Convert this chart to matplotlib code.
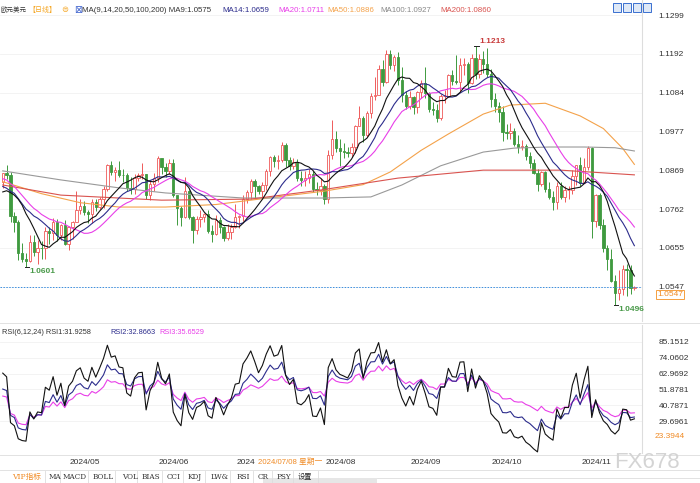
import numpy as np
import matplotlib.pyplot as plt
from matplotlib.patches import Rectangle

plt.rcParams['font.family'] = ['Liberation Sans', 'Noto Sans CJK SC', 'DejaVu Sans']

# closes before the first visible candle (for MA / RSI warm-up)
pre_close = [1.0938, 1.0926, 1.0927, 1.0948, 1.0882, 1.0890, 1.0868, 1.0865, 1.0922, 1.0859, 1.0808,
             1.0839, 1.0830, 1.0826, 1.0790, 1.0790, 1.0741, 1.0771, 1.0836, 1.0836, 1.0837]

# daily EUR/USD, 2024-04-08 .. 2024-11-21
closes = [
    # Apr
    1.0861, 1.0856, 1.0742, 1.0727, 1.0641, 1.0625, 1.0620, 1.0671, 1.0643, 1.0656, 1.0654, 1.0703, 1.0697, 1.0728, 1.0692, 1.0719, 1.0665,
    # May
    1.0713, 1.0727, 1.0760, 1.0770, 1.0753, 1.0748, 1.0782, 1.0768, 1.0790, 1.0819, 1.0883, 1.0866, 1.0871, 1.0857, 1.0856, 1.0822, 1.0817, 1.0847, 1.0857, 1.0858, 1.0802, 1.0833, 1.0848,
    # Jun
    1.0904, 1.0878, 1.0868, 1.0891, 1.0800, 1.0765, 1.0740, 1.0812, 1.0740, 1.0705, 1.0735, 1.0740, 1.0749, 1.0702, 1.0693, 1.0733, 1.0714, 1.0683, 1.0700, 1.0713,
    # Jul
    1.0740, 1.0742, 1.0790, 1.0810, 1.0840, 1.0827, 1.0812, 1.0830, 1.0867, 1.0907, 1.0894, 1.0899, 1.0939, 1.0898, 1.0882, 1.0893, 1.0848, 1.0844, 1.0849, 1.0858, 1.0817, 1.0816, 1.0825,
    # Aug
    1.0789, 1.0911, 1.0955, 1.0932, 1.0923, 1.0920, 1.0917, 1.0933, 1.0993, 1.1013, 1.0967, 1.1029, 1.1076, 1.1078, 1.1150, 1.1114, 1.1192, 1.1161, 1.1183, 1.1118, 1.1077, 1.1047,
    # Sep
    1.1073, 1.1045, 1.1087, 1.1112, 1.1082, 1.1040, 1.1035, 1.1013, 1.1075, 1.1075, 1.1132, 1.1116, 1.1115, 1.1162, 1.1163, 1.1112, 1.1180, 1.1135, 1.1177, 1.1164, 1.1135,
    # Oct
    1.1068, 1.1048, 1.1032, 1.0975, 1.0973, 1.0978, 1.0942, 1.0935, 1.0937, 1.0908, 1.0891, 1.0862, 1.0832, 1.0866, 1.0817, 1.0797, 1.0781, 1.0827, 1.0797, 1.0815, 1.0815, 1.0855, 1.0884,
    # Nov
    1.0834, 1.0880, 1.0930, 1.0730, 1.0801, 1.0719, 1.0654, 1.0623, 1.0564, 1.0530, 1.0541, 1.0598, 1.0595, 1.0544, 1.0547]

highs = [
    1.0863, 1.0885, 1.0866, 1.0755, 1.0732, 1.0668, 1.0640, 1.0691, 1.0691, 1.0678, 1.0675, 1.0712, 1.0714, 1.0737, 1.0734, 1.0722, 1.0731,
    1.0716, 1.0730, 1.0812, 1.0790, 1.0786, 1.0760, 1.0791, 1.0790, 1.0796, 1.0825, 1.0888, 1.0895, 1.0878, 1.0894, 1.0873, 1.0861, 1.0852, 1.0858, 1.0863, 1.0889, 1.0860, 1.0841, 1.0862,
    1.0909, 1.0900, 1.0889, 1.0902, 1.0901, 1.0792, 1.0770, 1.0852, 1.0815, 1.0744, 1.0742, 1.0761, 1.0752, 1.0761, 1.0718, 1.0746, 1.0741, 1.0716, 1.0721, 1.0720,
    1.0776, 1.0746, 1.0800, 1.0816, 1.0845, 1.0845, 1.0830, 1.0836, 1.0872, 1.0910, 1.0912, 1.0911, 1.0948, 1.0944, 1.0905, 1.0904, 1.0900, 1.0869, 1.0868, 1.0872, 1.0867, 1.0837, 1.0847,
    1.0833, 1.0927, 1.1008, 1.0978, 1.0955, 1.0944, 1.0935, 1.0944, 1.0996, 1.1047, 1.1020, 1.1033, 1.1084, 1.1128, 1.1160, 1.1174, 1.1202, 1.1202, 1.1189, 1.1196, 1.1155, 1.1090,
    1.1088, 1.1074, 1.1090, 1.1120, 1.1155, 1.1086, 1.1058, 1.1053, 1.1080, 1.1093, 1.1136, 1.1146, 1.1189, 1.1180, 1.1180, 1.1168, 1.1190, 1.1213, 1.1190, 1.1200, 1.1209,
    1.1151, 1.1083, 1.1059, 1.1047, 1.0998, 1.0999, 1.0987, 1.0966, 1.0953, 1.0942, 1.0920, 1.0900, 1.0872, 1.0869, 1.0867, 1.0836, 1.0813, 1.0836, 1.0838, 1.0827, 1.0825, 1.0870, 1.0885,
    1.0905, 1.0904, 1.0937, 1.0934, 1.0805, 1.0808, 1.0735, 1.0664, 1.0653, 1.0581, 1.0595, 1.0609, 1.0610, 1.0609, 1.0551]

lows = [
    1.0822, 1.0845, 1.0728, 1.0698, 1.0622, 1.0617, 1.0601, 1.0617, 1.0632, 1.0611, 1.0624, 1.0623, 1.0665, 1.0678, 1.0675, 1.0676, 1.0663,
    1.0650, 1.0680, 1.0726, 1.0750, 1.0745, 1.0724, 1.0723, 1.0758, 1.0763, 1.0766, 1.0812, 1.0856, 1.0839, 1.0851, 1.0838, 1.0812, 1.0805, 1.0805, 1.0840, 1.0845, 1.0790, 1.0788, 1.0812,
    1.0838, 1.0858, 1.0850, 1.0860, 1.0795, 1.0719, 1.0715, 1.0739, 1.0734, 1.0668, 1.0693, 1.0714, 1.0726, 1.0695, 1.0671, 1.0692, 1.0697, 1.0673, 1.0676, 1.0681,
    1.0710, 1.0710, 1.0730, 1.0780, 1.0790, 1.0792, 1.0804, 1.0796, 1.0815, 1.0855, 1.0880, 1.0874, 1.0892, 1.0880, 1.0870, 1.0872, 1.0840, 1.0825, 1.0825, 1.0835, 1.0810, 1.0802, 1.0800,
    1.0777, 1.0780, 1.0900, 1.0920, 1.0881, 1.0904, 1.0905, 1.0906, 1.0918, 1.0993, 1.0949, 1.0961, 1.1015, 1.1064, 1.1084, 1.1103, 1.1112, 1.1150, 1.1143, 1.1106, 1.1059, 1.1038,
    1.1040, 1.1026, 1.1027, 1.1070, 1.1069, 1.1030, 1.1022, 1.1002, 1.1008, 1.1056, 1.1073, 1.1105, 1.1107, 1.1085, 1.1133, 1.1083, 1.1108, 1.1123, 1.1124, 1.1138, 1.1127,
    1.1045, 1.1032, 1.1004, 1.0951, 1.0955, 1.0955, 1.0937, 1.0918, 1.0926, 1.0898, 1.0876, 1.0860, 1.0811, 1.0825, 1.0809, 1.0791, 1.0761, 1.0763, 1.0790, 1.0781, 1.0790, 1.0804, 1.0830,
    1.0825, 1.0834, 1.0871, 1.0682, 1.0712, 1.0708, 1.0645, 1.0595, 1.0560, 1.0496, 1.0512, 1.0525, 1.0522, 1.0527, 1.0540]

# long moving averages (candle index, value)
ma50_idx = [0, 10, 20, 30, 42, 55, 70, 83, 93, 100, 108, 115, 124, 131, 140, 149, 155, 160, 163]
ma50_val = [1.0838, 1.0805, 1.0780, 1.0768, 1.0768, 1.0775, 1.0795, 1.0812, 1.0830, 1.0865, 1.0925, 1.0970, 1.1025, 1.1050, 1.1055, 1.1020, 1.0985, 1.0930, 1.0886]
ma100_idx = [0, 15, 30, 42, 62, 83, 95, 103, 113, 124, 132, 141, 150, 158, 163]
ma100_val = [1.0868, 1.0843, 1.0821, 1.0807, 1.0793, 1.0793, 1.0796, 1.0829, 1.0882, 1.0920, 1.0931, 1.0934, 1.0934, 1.0932, 1.0923]
ma200_idx = [0, 15, 41, 64, 82, 102, 124, 144, 163]
ma200_val = [1.0829, 1.0801, 1.0787, 1.0790, 1.0815, 1.0848, 1.0870, 1.0870, 1.0857]

price_ticks = [1.1299, 1.1192, 1.1084, 1.0977, 1.0869, 1.0762, 1.0655, 1.0547]
rsi_ticks = [85.1512, 74.0602, 62.9692, 51.8781, 40.7871, 29.6961]
month_idx = [17, 40, 60, 83, 105, 126, 149]
month_lbl = ['2024/05', '2024/06', '2024', '2024/08', '2024/09', '2024/10', '2024/11']
last_price = 1.0547
tools = ['MA', 'MACD', 'BOLL', 'VOL', 'BIAS', 'CCI', 'KDJ', 'LW&', 'RSI', 'CR', 'PSY', '设置']

W, H = 700, 483
def fx(x): return x / W
def fy(y): return 1 - y / H

UP = '#ef5a5a'
DN = '#3f9a3f'

c = np.array(closes)
hi = np.array(highs)
lo = np.array(lows)
allc = np.array(pre_close + closes)
op = allc[len(pre_close) - 1:-1]
n = len(c)
xi = np.arange(n)

def ma(k):
    full = np.convolve(allc, np.ones(k) / k, mode='valid')
    return full[len(allc) - k + 1 - n:]

def rsi(k):
    d = np.diff(allc)
    up = 0.0
    ab = 0.0
    out = []
    for v in d:
        up = (max(v, 0) + (k - 1) * up) / k
        ab = (abs(v) + (k - 1) * ab) / k
        out.append(up / ab * 100 if ab > 0 else 50)
    return np.array(out[-n:])

fig = plt.figure(figsize=(7, 4.83), dpi=100)

# main price panel
ax = fig.add_axes([0, fy(321), fx(642), fy(0) - fy(321)])
p0 = 0.0002765
ax.set_ylim(1.1299 - 306 * p0, 1.1299 + 15 * p0)
ax.set_xlim((0 - 2.75) / 3.875, (642 - 2.75) / 3.875)

up = c >= op
body_lo = np.minimum(op, c)
body_h = np.maximum(np.abs(c - op), 0.00005)
ax.vlines(xi[up], lo[up], hi[up], color=UP, lw=0.7, zorder=2)
ax.vlines(xi[~up], lo[~up], hi[~up], color=DN, lw=0.7, zorder=2)
ax.bar(xi[up], body_h[up], 0.62, body_lo[up], facecolor='white', edgecolor=UP, lw=0.6, zorder=3)
ax.bar(xi[~up], body_h[~up], 0.62, body_lo[~up], facecolor=DN, edgecolor=DN, lw=0.6, zorder=3)

ax.plot(ma50_idx, ma50_val, color='#f4a24a', lw=0.8, zorder=4)
ax.plot(ma100_idx, ma100_val, color='#999999', lw=0.8, zorder=4)
ax.plot(ma200_idx, ma200_val, color='#d9534f', lw=0.8, zorder=4)
ax.plot(xi, ma(20), color='#e83ee8', lw=0.8, zorder=4)
ax.plot(xi, ma(14), color='#2c2c8c', lw=0.8, zorder=4)
ax.plot(xi, ma(9), color='#111111', lw=0.8, zorder=4)

ax.axhline(last_price, color='#3a8ee0', lw=0.7, ls=(0, (1.5, 1.5)), zorder=5)

# extreme labels
i_lo1 = int(np.argmin(lo[:40]))
i_hi = int(np.argmax(hi))
i_lo2 = int(np.argmin(lo))
for i, v, col, dy in [(i_lo1, lo[i_lo1], '#4a9a4a', -1), (i_hi, hi[i_hi], '#c83a3a', 1), (i_lo2, lo[i_lo2], '#4a9a4a', -1)]:
    ax.plot([i - 0.3, i + 0.9], [v, v], color='#222', lw=0.7, zorder=6)
    ax.text(i + 1.0, v + dy * 0.0012, f'{v:.4f}', color=col, fontsize=6, fontweight='bold',
            va='center', ha='left', zorder=6)

ax.set_yticks(price_ticks)
ax.set_yticklabels([f'{v:.4f}' for v in price_ticks])
ax.yaxis.tick_right()
ax.tick_params(axis='y', length=0, pad=12, labelsize=6, labelcolor='#333')
ax.set_xticks([])
ax.grid(axis='y', color='#f1f1f1', lw=0.6)
for s in ['top', 'left', 'bottom']:
    ax.spines[s].set_visible(False)
ax.spines['right'].set_color('#dddddd')

# current price box
fig.text(fx(657), fy(294.5), f'{last_price:.4f}', color='#f08a24', fontsize=6, va='center', ha='left',
         bbox=dict(boxstyle='square,pad=0.15', fc='white', ec='#f5a040', lw=0.7))

# RSI panel
ax2 = fig.add_axes([0, fy(453), fx(642), fy(325) - fy(453)])
r0 = 1 / 1.4246
ax2.set_ylim(85.1512 - (453 - 342) * r0, 85.1512 + (342 - 325) * r0)
ax2.set_xlim(ax.get_xlim())
ax2.plot(xi, rsi(24), color='#e83ee8', lw=0.8)
ax2.plot(xi, rsi(12), color='#2c2c8c', lw=0.8)
ax2.plot(xi, rsi(6), color='#111111', lw=0.8)
ax2.set_yticks(rsi_ticks)
ax2.set_yticklabels([f'{v:.4f}' for v in rsi_ticks])
ax2.yaxis.tick_right()
ax2.tick_params(axis='y', length=0, pad=12, labelsize=6, labelcolor='#333')
ax2.set_xticks([])
ax2.grid(axis='y', color='#f1f1f1', lw=0.6)
for s in ['top', 'left', 'bottom']:
    ax2.spines[s].set_visible(False)
ax2.spines['right'].set_color('#dddddd')
fig.text(fx(655), fy(437), '23.3944', color='#f08a24', fontsize=6, va='center')

# separators
for yy in [323, 455, 470]:
    fig.add_artist(plt.Line2D([0, 1], [fy(yy), fy(yy)], color='#e2e2e2', lw=0.7))
fig.add_artist(plt.Line2D([fx(377), 1], [fy(478), fy(478)], color='#dddddd', lw=0.6))

# title line
fig.text(fx(0.5), fy(10), '欧元美元', fontsize=4.7, color='#333', va='center')
fig.text(fx(28.5), fy(10), '【日线】', fontsize=5.0, color='#f5a623', va='center')
fig.text(fx(61), fy(10), '⊜', fontsize=6, color='#f5a623', va='center', family='DejaVu Sans')
fig.text(fx(74), fy(10), '⊠', fontsize=7, color='#3a5fcd', va='center', family='DejaVu Sans')
heads = [(82, 'MA(9,14,20,50,100,200) MA9:1.0575', '#333333'), (222, 'MA14:1.0659', '#2c2c8c'),
         (278, 'MA20:1.0711', '#e83ee8'), (327, 'MA50:1.0886', '#f4a24a'),
         (380, 'MA100:1.0927', '#888888'), (440, 'MA200:1.0860', '#d9534f')]
for x0, t, col in heads:
    fig.text(fx(x0), fy(10), t, fontsize=5.7, color=col, va='center')
for k in range(4):
    fig.add_artist(Rectangle((fx(613 + k * 10), fy(12)), fx(8), fy(3) - fy(12), fc='#dfe9f7', ec='#3a6fd0', lw=0.7))

rsi_heads = [(2, 'RSI(6,12,24) RSI1:31.9258', '#333333'), (110, 'RSI2:32.8663', '#2c2c8c'),
             (159, 'RSI3:35.6529', '#e83ee8')]
for x0, t, col in rsi_heads:
    fig.text(fx(x0), fy(332), t, fontsize=5.3, color=col, va='center')

# date axis
for i, t in zip(month_idx, month_lbl):
    fig.text(fx(2.75 + 3.875 * i + 1), fy(462), t, fontsize=6, color='#333', va='center')
fig.text(fx(258), fy(462), '2024/07/08 星期一', fontsize=5.6, color='#f08a24', va='center')
fig.text(fx(614), fy(462), 'FX678', fontsize=16, color='#d4d4d4', va='center')

# bottom toolbar
fig.text(fx(12), fy(477), 'VIP指标', fontsize=5.5, color='#f08a24', va='center', family=['DejaVu Serif', 'Noto Sans CJK SC'])
xs = [49, 63, 93, 122, 142, 167, 188, 211, 237, 258, 277, 298]
for x0, t in zip(xs, tools):
    fig.text(fx(x0), fy(477), t, fontsize=5.2, color='#333', va='center', family=['DejaVu Serif', 'Noto Sans CJK SC'])
for x0 in [45, 60, 88, 115, 137, 162, 183, 205, 230, 253, 272, 293, 318]:
    fig.add_artist(plt.Line2D([fx(x0), fx(x0)], [fy(471), fy(483)], color='#dddddd', lw=0.6))
fig.add_artist(Rectangle((fx(263), fy(483)), fx(377 - 263), fy(478) - fy(483), fc='#e6e6e6', ec='none'))

fig.savefig('out.png', dpi=100)
